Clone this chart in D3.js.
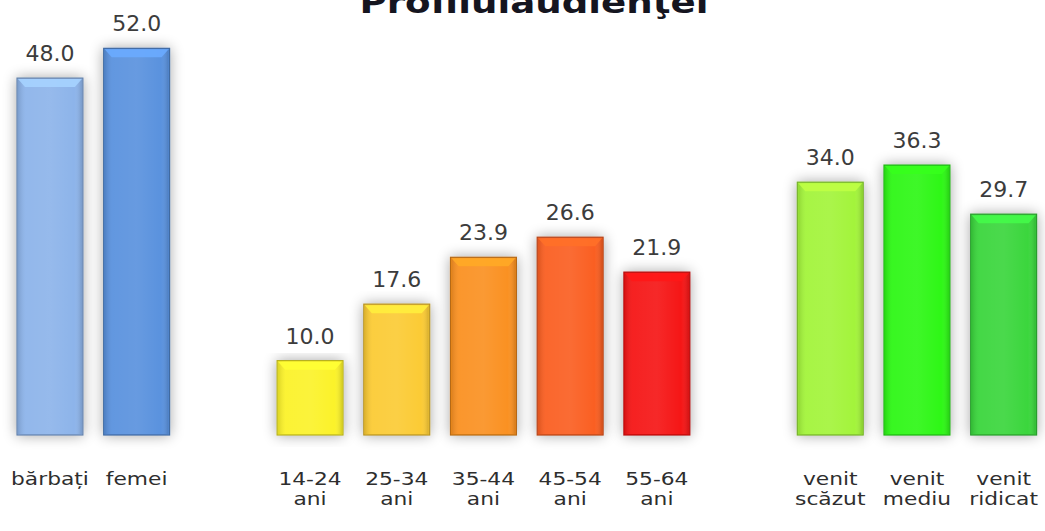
<!DOCTYPE html>
<html>
<head>
<meta charset="utf-8">
<script src="https://cdn.jsdelivr.net/npm/d3@7"></script>
<style>
  body { margin: 0; background: #fff; }
  svg { display: block; }
</style>
</head>
<body>
<div id="my_dataviz"></div>
<script>
// data
const title = "Profilulaudienţei";
const categories = ["bărbați", "femei", "14-24 ani", "25-34 ani", "35-44 ani", "45-54 ani", "55-64 ani", "venit scăzut", "venit mediu", "venit ridicat"];
const groups = ["sex", "sex", "varsta", "varsta", "varsta", "varsta", "varsta", "venit", "venit", "venit"];
const values = [48.0, 52.0, 10.0, 17.6, 23.9, 26.6, 21.9, 34.0, 36.3, 29.7];
const colors = ["#8db4ea", "#5a92de", "#fbf22c", "#fbcb34", "#fa9120", "#fa5f22", "#f51414", "#a3f43a", "#2ef718", "#3ad63e"];

const width = 1045, height = 531;
const baseY = 435;

const svg = d3.select("#my_dataviz")
  .append("svg")
    .attr("width", width)
    .attr("height", height);

const defs = svg.append("defs");

// soft shadow like the excel bars
const shadow = defs.append("filter")
    .attr("id", "shadow")
    .attr("x", "-30%").attr("y", "-10%")
    .attr("width", "160%").attr("height", "125%");
shadow.append("feGaussianBlur").attr("in", "SourceAlpha").attr("stdDeviation", 7);
shadow.append("feComponentTransfer").append("feFuncA").attr("type", "linear").attr("slope", 0.35);
const merge = shadow.append("feMerge");
merge.append("feMergeNode");
merge.append("feMergeNode").attr("in", "SourceGraphic");

// side shading gradient
const side = defs.append("linearGradient").attr("id", "side")
    .attr("x1", "0%").attr("x2", "100%").attr("y1", "0%").attr("y2", "0%");
side.append("stop").attr("offset", "0%").attr("stop-color", "#000").attr("stop-opacity", 0.12);
side.append("stop").attr("offset", "12%").attr("stop-color", "#fff").attr("stop-opacity", 0.05);
side.append("stop").attr("offset", "50%").attr("stop-color", "#fff").attr("stop-opacity", 0.08);
side.append("stop").attr("offset", "88%").attr("stop-color", "#fff").attr("stop-opacity", 0.0);
side.append("stop").attr("offset", "100%").attr("stop-color", "#000").attr("stop-opacity", 0.15);

// slots: one empty slot between groups
const groupOrder = Array.from(new Set(groups));
const slots = categories.map((c, i) => i + groupOrder.indexOf(groups[i]));

const x = d3.scaleBand()
  .domain(d3.range(12))
  .range([6.6, 1047])
  .paddingInner(0.24)
  .paddingOuter(0.12);

const y = d3.scaleLinear()
  .domain([0, 58.5])
  .range([baseY, 0]);

const data = categories.map((c, i) => ({cat: c, value: values[i], color: colors[i], slot: slots[i]}));

const bars = svg.append("g")
  .selectAll("g")
  .data(data)
  .join("g")
    .attr("transform", d => `translate(${x(d.slot)},${y(d.value)})`);

const bw = x.bandwidth();

bars.append("rect")
    .attr("width", bw)
    .attr("height", d => baseY - y(d.value))
    .attr("fill", d => d.color)
    .attr("stroke", d => d3.color(d.color).darker(0.9))
    .attr("stroke-width", 1.2)
    .attr("filter", "url(#shadow)");

bars.append("rect")
    .attr("x", 1).attr("y", 1)
    .attr("width", bw - 2)
    .attr("height", d => baseY - y(d.value) - 2)
    .attr("fill", "url(#side)");

// top bevel highlight
bars.append("path")
    .attr("d", `M1,1 H${bw - 1} L${bw - 8},9 H8 Z`)
    .attr("fill", d => d3.color(d.color).brighter(0.45))
    .attr("opacity", 0.9);

// value labels
svg.append("g")
  .selectAll("text")
  .data(data)
  .join("text")
    .attr("x", d => x(d.slot) + bw / 2)
    .attr("y", d => y(d.value) - 17)
    .attr("text-anchor", "middle")
    .style("font-family", "'DejaVu Sans', Verdana, sans-serif")
    .style("font-size", "22px")
    .style("fill", "#3c3c3c")
    .text(d => d.value.toFixed(1));

// category labels (wide, like the stretched original)
const labels = svg.append("g")
  .selectAll("g")
  .data(data)
  .join("g")
    .attr("transform", d => `translate(${x(d.slot) + bw / 2},485) scale(1.28,1)`);

labels.append("text")
    .attr("text-anchor", "middle")
    .style("font-family", "'DejaVu Sans', Verdana, sans-serif")
    .style("font-size", "17px")
    .style("fill", "#2e2e2e")
  .selectAll("tspan")
  .data(d => d.cat.split(" "))
  .join("tspan")
    .attr("x", 0)
    .attr("y", (d, i) => i * 20)
    .text(d => d);

// title, cut off at the top as in the picture
svg.append("text")
    .attr("transform", "translate(534,13) scale(1.24,1)")
    .attr("text-anchor", "middle")
    .style("font-family", "'DejaVu Sans', Verdana, sans-serif")
    .style("font-size", "30px")
    .style("font-weight", "bold")
    .style("fill", "#15151f")
    .text(title);
</script>
</body>
</html>
